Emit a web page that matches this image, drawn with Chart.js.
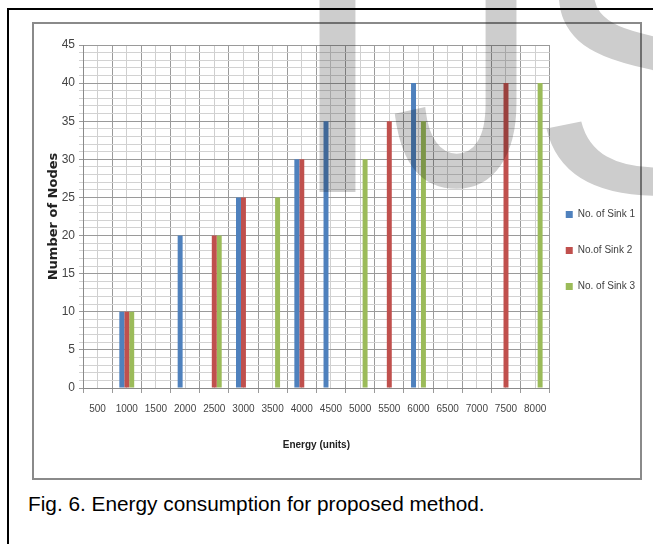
<!DOCTYPE html>
<html>
<head>
<meta charset="utf-8">
<script src="https://cdn.jsdelivr.net/npm/chart.js@4/dist/chart.umd.min.js"></script>
<style>
  body { margin: 0; width: 653px; height: 544px; overflow: hidden; position: relative; background: #fff; }
  #frame { position: absolute; left: 7px; top: 8px; width: 700px; height: 600px; border: 2px solid #000; }
  #box { position: absolute; left: 32px; top: 22px; width: 606px; height: 454px; border: 2px solid #8a8a8a; }
  #chartWrap { position: absolute; left: 34px; top: 24px; width: 621px; height: 452px; }
  #caption { position: absolute; left: 28px; top: 494px; font: 20.8px/1 'Liberation Sans', Arial, sans-serif; color: #000; white-space: nowrap; }
  #mark { position: absolute; left: 0; top: 0; pointer-events: none; mix-blend-mode: multiply; }
</style>
</head>
<body>
<div id="frame"></div>
<div id="box"></div>
<div id="chartWrap"><canvas id="sinkChart" width="621" height="452"></canvas></div>
<div id="caption">Fig. 6. Energy consumption for proposed method.</div>
<svg id="mark" width="653" height="544">
  <g fill="#cdcdcd" stroke="#cdcdcd" font-family="Liberation Sans, Arial, sans-serif" font-size="385">
    <text x="284" y="192" stroke-width="0">I</text>
    <text x="531" y="182" stroke-width="6" transform="scale(0.74,1)">J</text>
    <text x="529" y="192" stroke-width="0">S</text>
  </g>
</svg>
<script>
// energy levels on the x axis
const energyLabels = ['500', '1000', '1500', '2000', '2500', '3000', '3500', '4000',
                      '4500', '5000', '5500', '6000', '6500', '7000', '7500', '8000'];

// number of nodes per sink count
const sink1 = [null, 10, null, 20, null, 25, null, 30, 35, null, null, 40, null, null, null, null];
const sink2 = [null, 10, null, null, 20, 25, null, 30, null, null, 35, null, null, null, 40, null];
const sink3 = [null, 10, null, null, 20, null, 25, null, null, 30, null, 35, null, null, null, 40];

const sans = "'Liberation Sans', Arial, sans-serif";

// move the legend a little closer to the plot, like the original
const legendNudge = {
  id: "legendNudge",
  afterLayout(chart) {
    const lg = chart.legend;
    lg.left -= 10; lg.right -= 10;
    lg.top -= 10; lg.bottom -= 10;
  }
};

new Chart("sinkChart", {
  type: "bar",
  data: {
    labels: energyLabels,
    datasets: [
      { label: "No. of Sink 1", data: sink1, backgroundColor: "#4F81BD" },
      { label: "No.of Sink 2", data: sink2, backgroundColor: "#C0504D" },
      { label: "No. of Sink 3", data: sink3, backgroundColor: "#9BBB59" }
    ]
  },
  plugins: [legendNudge],
  options: {
    responsive: false,
    animation: false,
    layout: { padding: { top: 21, right: 0, bottom: 0, left: 0 } },
    datasets: { bar: { categoryPercentage: 0.51, barPercentage: 1.0 } },
    plugins: {
      tooltip: { enabled: false },
      legend: {
        position: "right",
        labels: {
          boxWidth: 7, boxHeight: 7, padding: 26,
          color: "#404040",
          font: { family: sans, size: 10 }
        }
      }
    },
    scales: {
      x: {
        grid: { color: "#9a9a9a", tickLength: 5, offset: true },
        border: { color: "#8a8a8a" },
        ticks: { color: "#444", padding: 10, autoSkip: false, maxRotation: 0, font: { family: sans, size: 10 } },
        title: {
          display: true, text: "Energy (units)", color: "#222",
          font: { family: sans, size: 10, weight: "bold" },
          padding: { top: 0, bottom: 25 }
        },
        afterFit: s => { s.height = 88; }
      },
      xMid: {
        type: "category",
        labels: energyLabels,
        position: "top",
        offset: true,
        grid: { offset: false, color: "#cfcfcf", drawTicks: false },
        border: { display: false },
        ticks: { display: false },
        afterFit: s => { s.height = 0; }
      },
      y: {
        min: 0, max: 45,
        grid: {
          color: c => (c.tick && c.tick.value % 5 === 0) ? "#9a9a9a" : "#d2d2d2",
          tickLength: 4
        },
        border: { color: "#8a8a8a" },
        ticks: {
          stepSize: 1, autoSkip: false, padding: 4, color: "#444",
          font: { family: sans, size: 12 },
          callback: v => (v % 5 === 0 ? v : "")
        },
        title: {
          display: true, text: "Number of Nodes", color: "#222",
          font: { family: "'DejaVu Sans', sans-serif", size: 13, weight: "bold" },
          padding: { top: 12, bottom: 0 }
        },
        afterFit: s => { s.width = 49; }
      }
    }
  }
});
</script>
</body>
</html>
